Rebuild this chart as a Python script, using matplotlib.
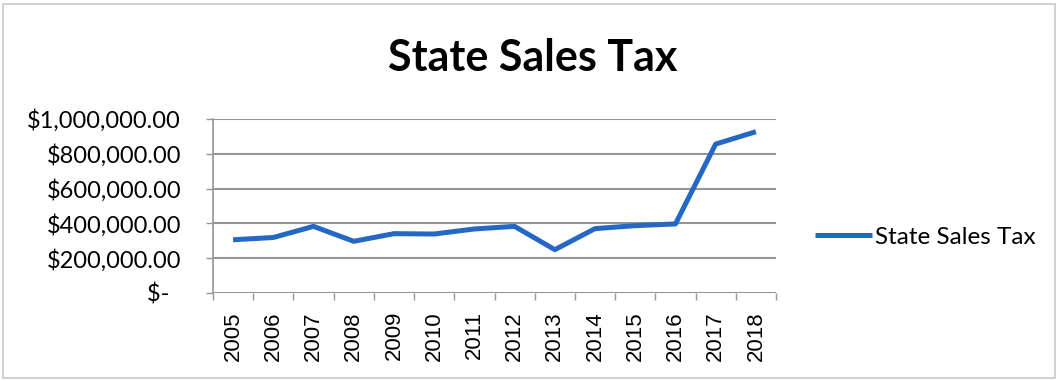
import matplotlib
matplotlib.use("Agg")
import matplotlib.pyplot as plt
from matplotlib.ticker import FuncFormatter, FixedLocator
from matplotlib.patches import Rectangle

years = ["2005", "2006", "2007", "2008", "2009", "2010", "2011",
         "2012", "2013", "2014", "2015", "2016", "2017", "2018"]
sales_tax = [306000, 319000, 383000, 297000, 341000, 339000, 368000,
             383000, 249000, 370000, 387000, 397000, 856000, 927000]
y_ticks = [0, 200000, 400000, 600000, 800000, 1000000]

plt.rcParams['font.family'] = ['Lato', 'DejaVu Sans']

W, H = 1057, 381
fig = plt.figure(figsize=(W / 100, H / 100), dpi=100)
fig.patch.set_facecolor("white")

# chart frame
fig.add_artist(Rectangle((3 / W, 3 / H), (W - 5) / W, (H - 7) / H,
                         transform=fig.transFigure, fill=False,
                         edgecolor="#c8c8c8", linewidth=1.2))

left, right, top, bottom = 213, 776, 119, 293
ax = fig.add_axes([left / W, 1 - bottom / H, (right - left) / W, (bottom - top) / H])

line_color = "#2468c4"
x = list(range(len(years)))
ax.plot(x, sales_tax, color=line_color, linewidth=3.6,
        solid_joinstyle="round", solid_capstyle="butt", label="State Sales Tax")

ax.set_xlim(-0.5, len(years) - 0.5)
ax.set_ylim(0, 1000000)

ax.yaxis.set_major_locator(FixedLocator(y_ticks))


def money(v, pos):
    if v == 0:
        return "$-  "
    return "${:,.2f}".format(v)


ax.yaxis.set_major_formatter(FuncFormatter(money))
ax.grid(axis="y", color="#959595", linewidth=1.5)
ax.set_axisbelow(True)

# category labels centred, tick marks between categories
ax.set_xticks(x)
ax.set_xticklabels(years, rotation=90, fontsize=16, fontfamily="Liberation Sans")
ax.set_xticks([i - 0.5 for i in range(len(years) + 1)], minor=True)
ax.tick_params(axis="x", which="major", length=0, pad=13)
ax.tick_params(axis="x", which="minor", length=5, width=1, color="#959595", direction="out")
ax.tick_params(axis="y", length=5, width=1, color="#959595", labelsize=17, pad=18)

for s in ("top", "right"):
    ax.spines[s].set_visible(False)
ax.spines["bottom"].set_visible(False)
ax.spines["left"].set_color("#959595")
ax.spines["left"].set_linewidth(1.2)

fig.text(533 / W, 1 - 58 / H, "State Sales Tax", ha="center", va="center",
         fontsize=31, fontweight="bold")

ax.legend(loc="center left", bbox_to_anchor=(793 / W, 1 - 237 / H),
          bbox_transform=fig.transFigure, frameon=False, fontsize=17.5,
          handlelength=2.35, handletextpad=0.12)

fig.savefig("out.png", dpi=100, facecolor="white")
